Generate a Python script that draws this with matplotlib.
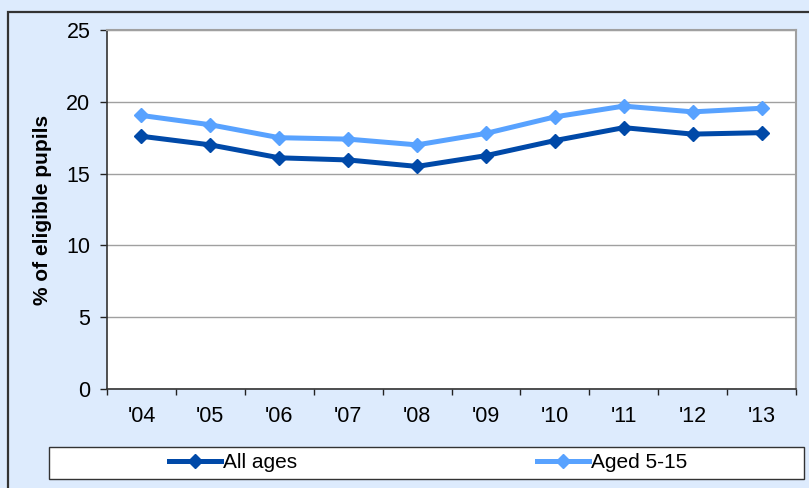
import numpy as np
import matplotlib.pyplot as plt
from matplotlib.patches import Rectangle

years = ["'04", "'05", "'06", "'07", "'08", "'09", "'10", "'11", "'12", "'13"]
all_ages = [17.6, 17.0, 16.1, 15.95, 15.5, 16.25, 17.3, 18.2, 17.75, 17.85]
aged_5_15 = [19.05, 18.4, 17.5, 17.4, 17.0, 17.8, 18.95, 19.7, 19.3, 19.55]

dark = "#0049A8"
light = "#58A2FF"
bg = "#DDEBFD"

plt.rcParams.update({
    "font.family": ["Liberation Sans", "DejaVu Sans"],
    "font.size": 15.5,
})

W, H = 809, 488
fig = plt.figure(figsize=(W / 100, H / 100), dpi=100, facecolor=bg)
ax = fig.add_axes([107 / W, 1 - 389 / H, (796 - 107) / W, (389 - 30) / H])
ax.set_facecolor("white")

x = np.arange(len(years))
ax.plot(x, all_ages, color=dark, lw=3.6, marker="D", ms=7.5, label="All ages", zorder=3)
ax.plot(x, aged_5_15, color=light, lw=3.6, marker="D", ms=7.5, label="Aged 5-15", zorder=3)

ax.set_xlim(-0.5, len(years) - 0.5)
ax.set_ylim(0, 25)
ax.set_yticks(range(0, 26, 5))
ax.yaxis.grid(True, color="#A0A0A0", lw=1)
ax.set_axisbelow(True)

# category boundaries as major ticks, labels on minor ticks
ax.set_xticks(np.arange(-0.5, len(years), 1.0))
ax.set_xticklabels([])
ax.set_xticks(x, minor=True)
ax.set_xticklabels(years, minor=True)
ax.tick_params(axis="x", which="major", direction="out", length=4, width=1, color="#222222")
ax.tick_params(axis="x", which="minor", length=0, pad=12)
ax.tick_params(axis="y", direction="out", length=5, width=1, color="#222222", pad=7)

for s in ["left", "bottom"]:
    ax.spines[s].set_color("#333333")
    ax.spines[s].set_linewidth(1.2)
for s in ["top", "right"]:
    ax.spines[s].set_color("#A0A0A0")
    ax.spines[s].set_linewidth(1.5)

ax.set_ylabel("% of eligible pupils", fontsize=15, fontweight="bold", labelpad=10)

# outer chart border
fig.patches.append(Rectangle((8 / W, -0.05), 1.2, (H - 12) / H + 0.05,
                             transform=fig.transFigure, fill=False,
                             edgecolor="#333333", lw=1.6, clip_on=False))

# legend box
fig.patches.append(Rectangle((49 / W, 1 - 479 / H), (804 - 49) / W, 32 / H,
                             transform=fig.transFigure, facecolor="white",
                             edgecolor="#333333", lw=1.0))
handles, labels = ax.get_legend_handles_labels()
for h, lab, cx in zip(handles, labels, [233, 612]):
    fig.legend([h], [lab], loc="center", bbox_to_anchor=(cx / W, 1 - 463 / H),
               frameon=False, handlelength=2.5, handletextpad=0.1, fontsize=15)

fig.savefig("out.png", dpi=100, facecolor=bg)
